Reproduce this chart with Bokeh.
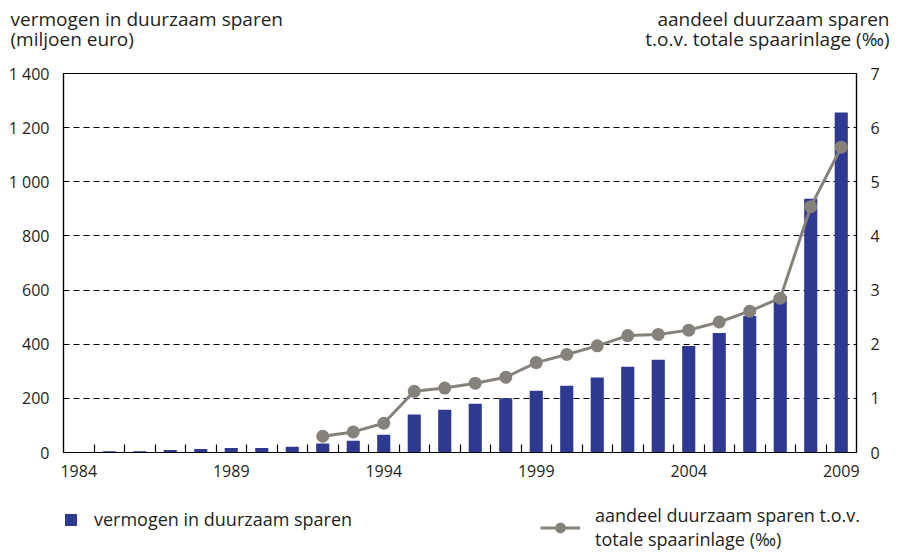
from bokeh.plotting import figure
from bokeh.models import (Range1d, LinearAxis, FixedTicker, Label, Legend, LegendItem)
from bokeh.embed import file_html
from bokeh.resources import INLINE

years = list(range(1984, 2010))
vermogen = [0, 5, 5, 9, 13, 17, 17, 21, 33, 43, 66, 140, 158, 180, 200, 228, 247, 277,
            317, 343, 393, 441, 504, 578, 937, 1256]
line_years = list(range(1992, 2010))
aandeel = [0.30, 0.38, 0.54, 1.13, 1.19, 1.28, 1.39, 1.66, 1.81, 1.97, 2.16, 2.18,
           2.26, 2.41, 2.61, 2.85, 4.54, 5.64]

left_ticks = [0, 200, 400, 600, 800, 1000, 1200, 1400]
left_labels = ["0", "200", "400", "600", "800", "1 000", "1 200", "1 400"]
right_ticks = [0, 1, 2, 3, 4, 5, 6, 7]
x_label_years = [1984, 1989, 1994, 1999, 2004, 2009]

title_left = ["vermogen in duurzaam sparen", "(miljoen euro)"]
title_right = ["aandeel duurzaam sparen", "t.o.v. totale spaarinlage (‰)"]
legend_bar = "vermogen in duurzaam sparen"
legend_line = "aandeel duurzaam sparen t.o.v.\ntotale spaarinlage (‰)"

BAR = "#2e3a91"
GRAY = "#86817b"
TXT = "#231f20"
FONT = "Open Sans"
W = 901


def blank(h):
    f = figure(width=W, height=h, output_backend="svg", toolbar_location=None,
               x_range=Range1d(0, 1), y_range=Range1d(0, 1),
               x_axis_type=None, y_axis_type=None,
               min_border=0, min_border_left=0, min_border_right=0,
               min_border_top=0, min_border_bottom=0)
    f.grid.visible = False
    f.outline_line_color = None
    return f


# ---- top: axis titles ----
TOP_H = 60
top = blank(TOP_H)
for i, t in enumerate(title_left):
    top.add_layout(Label(x=10, y=TOP_H - 18 - i * 20, x_units="screen", y_units="screen",
                         text=t, text_font=FONT, text_font_size="19px", text_color=TXT,
                         text_align="left", text_baseline="alphabetic"))
for i, t in enumerate(title_right):
    top.add_layout(Label(x=889, y=TOP_H - 18 - i * 20, x_units="screen", y_units="screen",
                         text=t, text_font=FONT, text_font_size="19px", text_color=TXT,
                         text_align="right", text_baseline="alphabetic"))

# ---- main chart ----
MAIN_H = 440
p = figure(width=W, height=MAIN_H, output_backend="svg", toolbar_location=None,
           x_range=Range1d(1983.5, 2009.5), y_range=Range1d(0, 1400),
           min_border_left=63, min_border_right=45, min_border_top=13,
           min_border_bottom=48)
p.extra_y_ranges = {"right": Range1d(0, 7)}
p.outline_line_color = "black"
p.outline_line_width = 1.2

bars = p.vbar(x=years, top=vermogen, width=0.43, color=BAR, line_color=None)
ln = p.line(x=line_years, y=aandeel, y_range_name="right", line_color=GRAY, line_width=3)
pts = p.scatter(x=line_years, y=aandeel, y_range_name="right", size=13, color=GRAY,
                line_color=None)

xa = p.xaxis[0]
xa.ticker = FixedTicker(ticks=x_label_years, minor_ticks=[y + 0.5 for y in years[:-1]])
xa.major_tick_line_color = None
xa.major_tick_out = 0
xa.major_tick_in = 0
xa.minor_tick_in = 8
xa.minor_tick_out = 0
xa.minor_tick_line_color = "black"
xa.minor_tick_line_width = 1.2
xa.axis_line_color = "black"
xa.axis_line_width = 1.2
xa.major_label_text_font = FONT
xa.major_label_text_font_size = "16px"
xa.major_label_text_color = TXT
xa.major_label_standoff = 12

ya = p.yaxis[0]
ya.ticker = FixedTicker(ticks=left_ticks)
ya.major_label_overrides = {t: l for t, l in zip(left_ticks, left_labels)}
ya.major_tick_line_color = None
ya.major_tick_out = 0
ya.major_tick_in = 0
ya.minor_tick_line_color = None
ya.minor_tick_out = 0
ya.axis_line_color = "black"
ya.axis_line_width = 1.2
ya.major_label_text_font = FONT
ya.major_label_text_font_size = "16px"
ya.major_label_text_color = TXT
ya.major_label_standoff = 14

ra = LinearAxis(y_range_name="right", ticker=FixedTicker(ticks=right_ticks))
ra.major_tick_line_color = None
ra.major_tick_out = 0
ra.major_tick_in = 0
ra.minor_tick_line_color = None
ra.minor_tick_out = 0
ra.axis_line_color = "black"
ra.axis_line_width = 1.2
ra.major_label_text_font = FONT
ra.major_label_text_font_size = "16px"
ra.major_label_text_color = TXT
ra.major_label_standoff = 14
p.add_layout(ra, "right")

p.xgrid.grid_line_color = None
p.ygrid.ticker = FixedTicker(ticks=left_ticks[1:-1])
p.ygrid.grid_line_color = "black"
p.ygrid.grid_line_dash = "6 4"
p.ygrid.grid_line_width = 1

# ---- bottom: legend (series re-drawn outside the visible range, used only for keys) ----
BOT_H = 552 - TOP_H - MAIN_H
bot = blank(BOT_H)
lb = bot.vbar(x=years, top=vermogen, width=0.43, color=BAR, line_color=None)
ll = bot.line(x=line_years, y=aandeel, line_color=GRAY, line_width=3)
lp = bot.scatter(x=line_years, y=aandeel, size=13, color=GRAY, line_color=None)

common = dict(border_line_color=None, background_fill_alpha=0, padding=0, margin=0,
              label_text_font=FONT, label_text_color=TXT, label_text_font_size="18px")
leg1 = Legend(items=[LegendItem(label=legend_bar, renderers=[lb])],
              location=(63, 21), glyph_width=15, glyph_height=15, label_standoff=16,
              **common)
leg2 = Legend(items=[LegendItem(label=legend_line, renderers=[ll, lp])],
              location=(540, 1), glyph_width=40, glyph_height=27, label_standoff=15,
              label_text_line_height=0.95, **common)
bot.add_layout(leg1, "center")
bot.add_layout(leg2, "center")

open("out.html", "w").write(file_html([top, p, bot], INLINE))
